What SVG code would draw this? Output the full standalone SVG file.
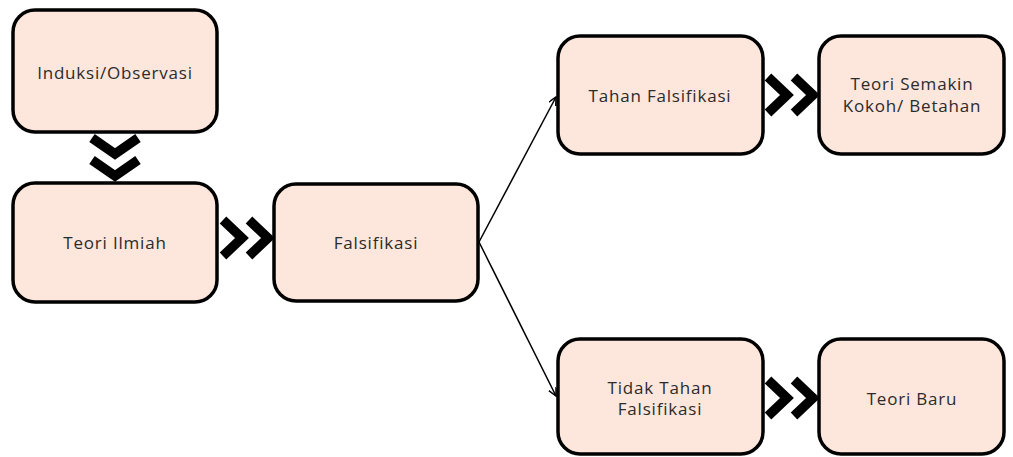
<svg xmlns="http://www.w3.org/2000/svg" width="1013" height="457" viewBox="0 0 1013 457">
<style>
.box{fill:#fde6dc;stroke:#000;stroke-width:3.5}
.t{font-family:"Open Sans","Noto Sans",sans-serif;font-size:17px;letter-spacing:0.8px;fill:#2b2b2b;text-anchor:middle}
.chev{fill:none;stroke:#000;stroke-width:9.5;stroke-linejoin:miter;stroke-linecap:butt}
.ln{stroke:#000;stroke-width:1.5;fill:none}
</style>
<defs>
<marker id="ah" markerWidth="10" markerHeight="10" refX="8" refY="4" orient="auto" markerUnits="userSpaceOnUse">
<path d="M0,0 L8,4 L0,8" fill="none" stroke="#000" stroke-width="1.5"/>
</marker>
</defs>
<rect width="1013" height="457" fill="#fff"/>
<g id="connectors">
<polyline class="chev" points="92,138 115,154 138,138"/>
<polyline class="chev" points="92,160 115,176 138,160"/>
<polyline class="chev" points="223,220 242,238 223,256"/>
<polyline class="chev" points="249,220 268,238 249,256"/>
<polyline class="chev" points="768,77 787,95 768,113"/>
<polyline class="chev" points="794,77 813,95 794,113"/>
<polyline class="chev" points="768,380 787,398 768,416"/>
<polyline class="chev" points="794,380 813,398 794,416"/>
<line class="ln" x1="479" y1="242" x2="556" y2="97" marker-end="url(#ah)"/>
<line class="ln" x1="479" y1="242" x2="556" y2="396" marker-end="url(#ah)"/>
</g>
<g id="n1"><rect class="box" x="13" y="10" width="204" height="122" rx="22"/><text class="t" x="115" y="79">Induksi/Observasi</text></g>
<g id="n2"><rect class="box" x="13" y="183" width="204" height="119" rx="22"/><text class="t" x="115" y="249">Teori Ilmiah</text></g>
<g id="n3"><rect class="box" x="274" y="184" width="204" height="117" rx="22"/><text class="t" x="376" y="249">Falsifikasi</text></g>
<g id="n4"><rect class="box" x="558" y="36" width="205" height="118" rx="22"/><text class="t" x="660" y="102">Tahan Falsifikasi</text></g>
<g id="n5"><rect class="box" x="819" y="36" width="185" height="118" rx="22"/><text class="t" x="912" y="90">Teori Semakin</text><text class="t" x="912" y="112">Kokoh/ Betahan</text></g>
<g id="n6"><rect class="box" x="558" y="339" width="205" height="115" rx="22"/><text class="t" x="660" y="394">Tidak Tahan</text><text class="t" x="660" y="415">Falsifikasi</text></g>
<g id="n7"><rect class="box" x="819" y="339" width="185" height="115" rx="22"/><text class="t" x="912" y="405">Teori Baru</text></g>
</svg>
